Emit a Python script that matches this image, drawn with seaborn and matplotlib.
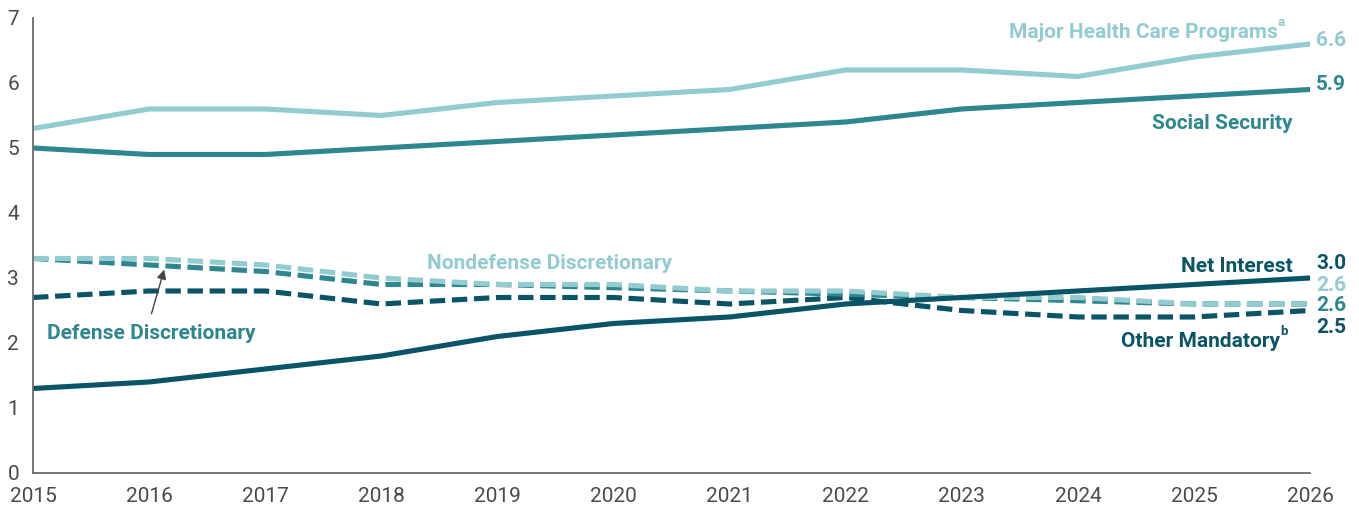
import matplotlib
matplotlib.use("Agg")
import matplotlib.pyplot as plt
import seaborn as sns
import pandas as pd

years = list(range(2015, 2027))
health = [5.3, 5.6, 5.6, 5.5, 5.7, 5.8, 5.9, 6.2, 6.2, 6.1, 6.4, 6.6]
social_security = [5.0, 4.9, 4.9, 5.0, 5.1, 5.2, 5.3, 5.4, 5.6, 5.7, 5.8, 5.9]
net_interest = [1.3, 1.4, 1.6, 1.8, 2.1, 2.3, 2.4, 2.6, 2.7, 2.8, 2.9, 3.0]
nondefense = [3.3, 3.3, 3.2, 3.0, 2.9, 2.9, 2.8, 2.8, 2.7, 2.7, 2.6, 2.6]
defense = [3.3, 3.2, 3.1, 2.9, 2.9, 2.85, 2.8, 2.75, 2.7, 2.65, 2.6, 2.6]
other_mandatory = [2.7, 2.8, 2.8, 2.6, 2.7, 2.7, 2.6, 2.7, 2.5, 2.4, 2.4, 2.5]

LIGHT = "#92CBD0"
MID = "#2E8691"
DARK = "#0A5468"
FONT = ["Roboto", "DejaVu Sans"]

sns.set_style("white")
plt.rcParams["font.family"] = FONT

fig = plt.figure(figsize=(13.59, 5.11), dpi=100)
ax = fig.add_axes([0.0243, 0.0744, 0.9397, 0.8904])

lw = 3.7
dash = (3, 1.3)
series = [
    (other_mandatory, DARK, True),
    (defense, MID, True),
    (nondefense, LIGHT, True),
    (net_interest, DARK, False),
    (social_security, MID, False),
    (health, LIGHT, False),
]
for vals, col, dashed in series:
    df = pd.DataFrame({"year": years, "value": vals})
    sns.lineplot(data=df, x="year", y="value", color=col, lw=lw, ax=ax)
    l = ax.lines[-1]
    l.set_solid_capstyle("round")
    if dashed:
        l.set_dashes(dash)
        l.set_dash_capstyle("butt")

ax.set_xlim(2015, 2026)
ax.set_ylim(0, 7)
ax.set_xticks(years)
ax.set_yticks(range(8))
ax.set_xlabel("")
ax.set_ylabel("")
for s in ["top", "right"]:
    ax.spines[s].set_visible(False)
for s in ["left", "bottom"]:
    ax.spines[s].set_color("#6b6b6b")
    ax.spines[s].set_linewidth(1.3)
ax.tick_params(axis="both", direction="in", length=7, width=1.3, color="#6b6b6b",
               labelsize=15, labelcolor="#4a4a4a")
ax.tick_params(axis="y", pad=10)
ax.tick_params(axis="x", pad=10)

fs = 15


def label(x, y, txt, col, ha="right", sup=None):
    ax.text(x, y, txt, color=col, fontsize=fs, fontweight="bold", ha=ha, va="center")
    if sup:
        ax.annotate(sup, (x, y), xytext=(0, 7), textcoords="offset points", color=col,
                    fontsize=9.5, fontweight="bold", ha="left", va="center")


label(2025.72, 6.78, "Major Health Care Programs", LIGHT, sup="a")
label(2025.85, 5.38, "Social Security", MID)
label(2019.45, 3.23, "Nondefense Discretionary", LIGHT, ha="center")
label(2025.85, 3.17, "Net Interest", DARK)
label(2025.74, 2.03, "Other Mandatory", DARK, sup="b")
label(2015.12, 2.15, "Defense Discretionary", MID, ha="left")

end_vals = [(health[-1], LIGHT, 6.66), (social_security[-1], MID, 5.97),
            (net_interest[-1], DARK, 3.23), (nondefense[-1], LIGHT, 2.89),
            (defense[-1], MID, 2.57), (other_mandatory[-1], DARK, 2.24)]
for v, col, ypos in end_vals:
    ax.text(2026.05, ypos, f"{v:.1f}", color=col, fontsize=15, fontweight="bold",
            ha="left", va="center", clip_on=False)

ax.annotate("", xy=(2016.13, 3.13), xytext=(2016.02, 2.45),
            arrowprops=dict(arrowstyle="-|>", color="#444444", lw=1.0,
                            mutation_scale=14, shrinkA=0, shrinkB=0))

fig.savefig("out.png", dpi=100)
